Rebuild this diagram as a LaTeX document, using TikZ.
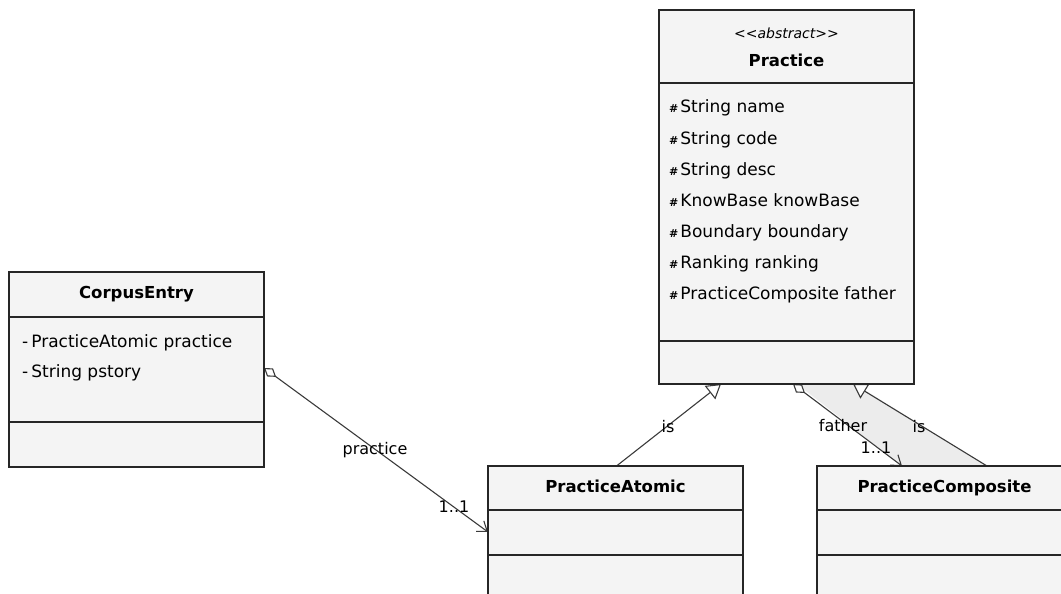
\documentclass[tikz,border=0pt]{standalone}
\usepackage{fontspec}
\setmainfont{DejaVu Sans}
\usetikzlibrary{positioning,arrows.meta,backgrounds}
\definecolor{boxgray}{HTML}{F4F4F4}
\definecolor{lanegray}{HTML}{ECECEC}
\definecolor{linegray}{HTML}{3A3A3A}
\newcommand{\prot}{{\fontsize{11}{11}\selectfont\bfseries\#}\hspace{2pt}}
\newcommand{\priv}{-\hspace{3pt}}

\begin{document}
\begin{tikzpicture}[x=1pt,y=-1pt,
    part/.style={draw=black!85,fill=boxgray,line width=1.2pt,minimum width=255pt,
      inner sep=0pt,outer sep=0pt,anchor=north west},
    head/.style={part,text height=12pt,text depth=3.5pt,font=\fontsize{16.5}{18}\selectfont\bfseries},
    attr/.style={anchor=base west,inner sep=0pt,font=\fontsize{17}{20}\selectfont},
    lbl/.style={inner sep=1pt,font=\fontsize{16}{18}\selectfont},
    assoc/.style={draw=linegray,line width=1.1pt},
    gen/.style={assoc,-{Triangle[fill=white,length=14pt,width=17pt]}},
    nav/.style={assoc,{Diamond[fill=white,length=15pt,width=10pt]}-{Straight Barb[length=9pt,width=13pt]}}
  ]
    \useasboundingbox (0,0) rectangle (1061,594);

    % Practice
    \node[part,minimum height=73pt] (prach) at (659,10) {};
    \node[part,minimum height=258pt,below=0pt of prach] (praca) {};
    \node[part,minimum height=43pt,below=0pt of praca] (praco) {};
    \node[inner sep=0pt,font=\fontsize{14}{16}\selectfont\itshape] (pracst)
      at ([yshift=-23pt]prach.north) {<\kern0pt<abstract>\kern0pt>};
    \node[inner sep=0pt,font=\fontsize{16.5}{18}\selectfont\bfseries] (pracname)
      at ([yshift=-50pt]prach.north) {Practice};
    \foreach \a [count=\i] in {String name,String code,String desc,KnowBase knowBase,
        Boundary boundary,Ranking ranking,PracticeComposite father}
      \node[attr] (praca\i) at ([xshift=10pt,yshift={-30pt-31pt*(\i-1)}]praca.north west) {\prot\a};

    % CorpusEntry
    \node[head,minimum height=45pt] (corph) at (9,272) {CorpusEntry};
    \node[part,minimum height=105pt,below=0pt of corph] (corpa) {};
    \node[part,minimum height=45pt,below=0pt of corpa] (corpo) {};
    \foreach \a [count=\i] in {PracticeAtomic practice,String pstory}
      \node[attr] (corpa\i) at ([xshift=13pt,yshift={-30pt-30pt*(\i-1)}]corpa.north west) {\priv\a};

    % PracticeAtomic
    \node[head,minimum height=44pt] (atomh) at (488,466) {PracticeAtomic};
    \node[part,minimum height=45pt,below=0pt of atomh] (atoma) {};
    \node[part,minimum height=60pt,below=0pt of atoma] (atomo) {};

    % PracticeComposite
    \node[head,minimum height=44pt] (comph) at (817,466) {PracticeComposite};
    \node[part,minimum height=45pt,below=0pt of comph] (compa) {};
    \node[part,minimum height=60pt,below=0pt of compa] (compo) {};

    \begin{scope}[on background layer]
      \fill[lanegray] ([xshift=138pt]praco.south west) -- ([xshift=196pt]praco.south west)
        -- ([xshift=170pt]comph.north west) -- ([xshift=85pt]comph.north west) -- cycle;
      \draw[gen] ([xshift=1pt]atomh.north) -- ([xshift=62pt]praco.south west);
      \draw[gen] ([xshift=170pt]comph.north west) -- ([xshift=194pt]praco.south west);
      \draw[nav] ([xshift=134pt]praco.south west) -- ([xshift=85pt]comph.north west);
      \draw[nav] ([yshift=-51pt]corpa.north east) -- ([yshift=-22pt]atoma.north west);
    \end{scope}

    \node[lbl] (lpractice) at (375,450) {practice};
    \node[lbl] (lmulta) at (454,507) {1..1};
    \node[lbl] (lisa) at (668,427) {is};
    \node[lbl] (lfather) at (843,426) {father};
    \node[lbl] (lmultc) at (876,448) {1..1};
    \node[lbl] (lisc) at (919,427) {is};
\end{tikzpicture}
\end{document}
